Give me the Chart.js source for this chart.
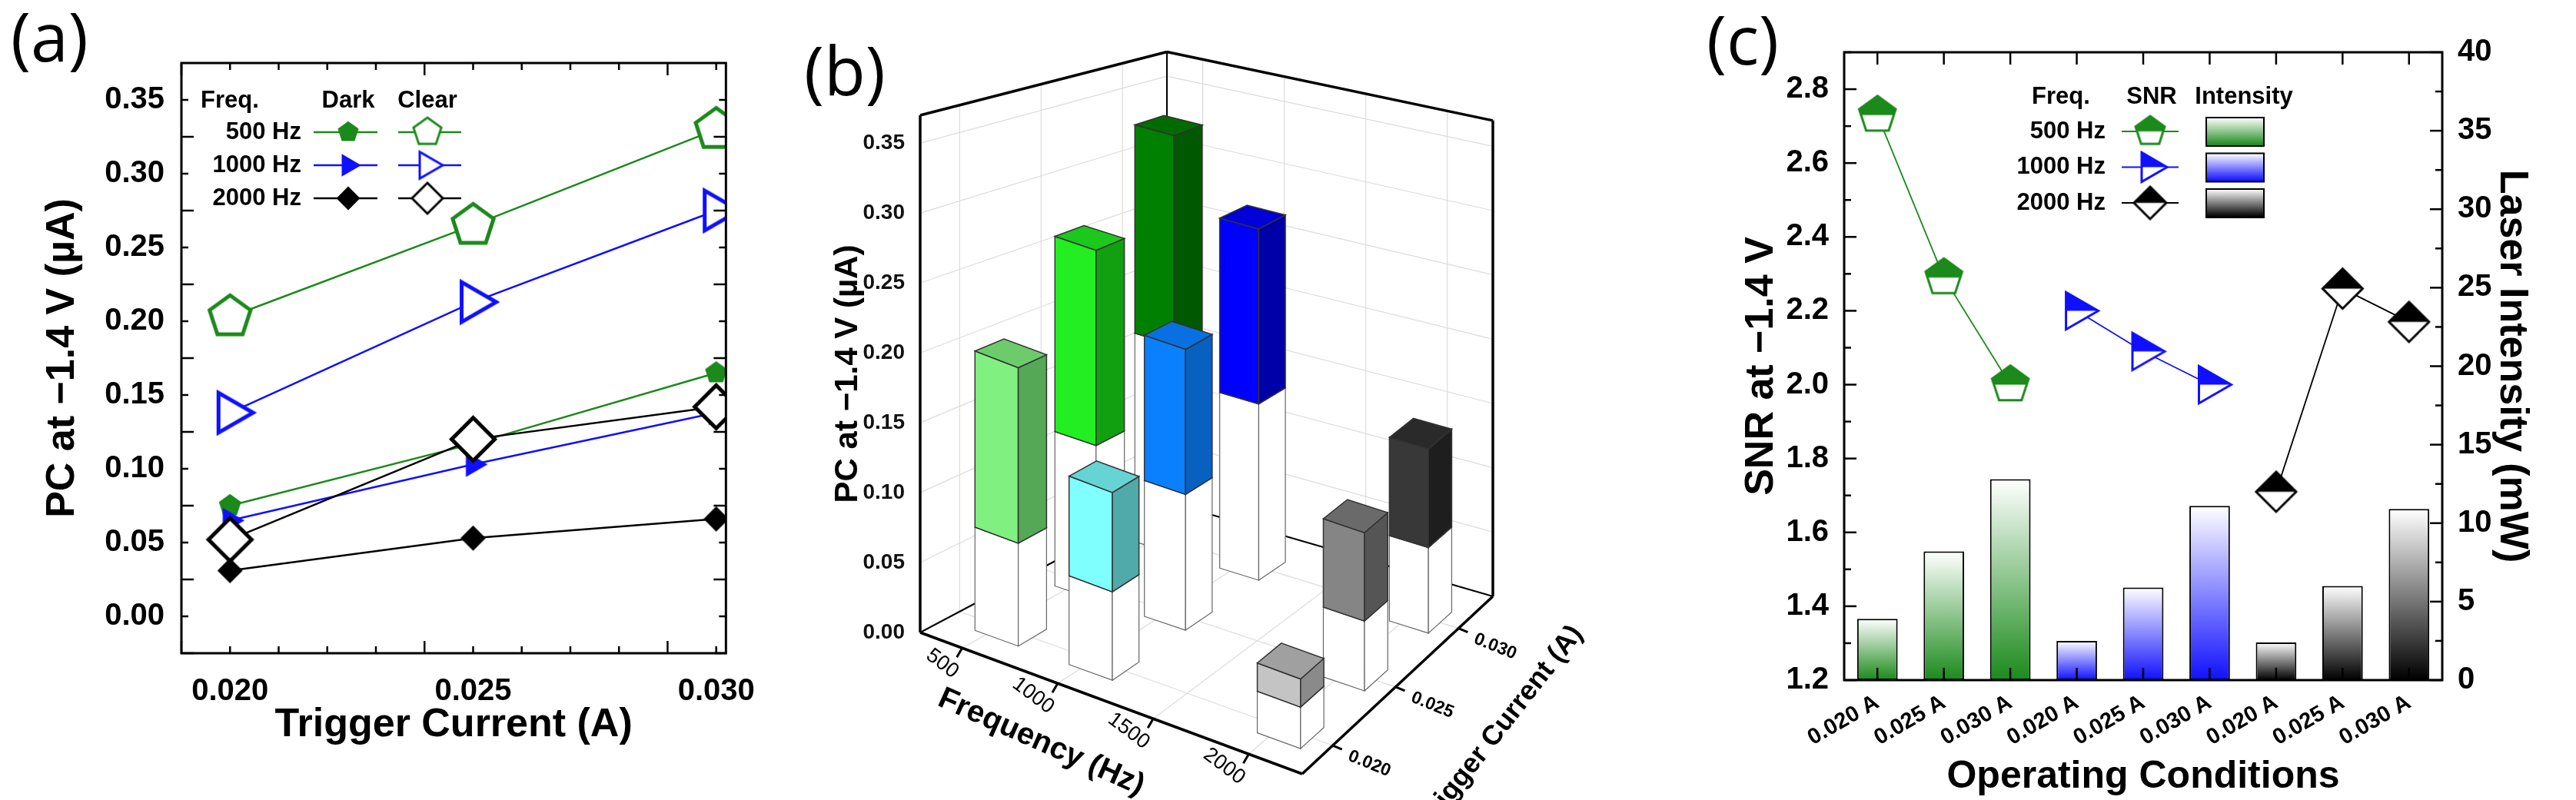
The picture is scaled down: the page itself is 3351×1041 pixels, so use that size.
<!DOCTYPE html>
<html><head><meta charset="utf-8">
<script src="https://cdn.jsdelivr.net/npm/chart.js@4.4.1/dist/chart.umd.min.js"></script>
<style>
body{margin:0;background:#fff;width:3351px;height:1041px;position:relative;overflow:hidden}
canvas{position:absolute;top:0}
.lab{position:absolute;font-family:"Open Sans",sans-serif;font-size:88px;line-height:1;color:#000}
</style></head><body>
<canvas id="ca" width="1000" height="1041" style="left:0"></canvas>
<canvas id="cb" width="1250" height="1041" style="left:1000px"></canvas>
<canvas id="cc" width="1101" height="1041" style="left:2250px"></canvas>
<div class="lab" style="left:14px;top:2px">(a)</div>
<div class="lab" style="left:1046px;top:46px">(b)</div>
<div class="lab" style="left:2220px;top:6px">(c)</div>
<script>
// ---------- data ----------
const currents = [0.020, 0.025, 0.030];
const currentLabels = ['0.020', '0.025', '0.030'];
const freqLabels = ['500 Hz', '1000 Hz', '2000 Hz'];
const freq3DLabels = ['500', '1000', '1500', '2000'];
const dark500 = [0.075, 0.117, 0.165];
const clear500 = [0.203, 0.265, 0.330];
const dark1000 = [0.065, 0.103, 0.138];
const clear1000 = [0.138, 0.213, 0.275];
const dark2000 = [0.031, 0.053, 0.066];
const clear2000 = [0.052, 0.120, 0.142];
const pcTicks = [0.00, 0.05, 0.10, 0.15, 0.20, 0.25, 0.30, 0.35];
const condLabels = ['0.020 A','0.025 A','0.030 A','0.020 A','0.025 A','0.030 A','0.020 A','0.025 A','0.030 A'];
const snr500 = [2.73, 2.29, 2.00];
const snr1000 = [2.20, 2.09, 2.00];
const snr2000 = [1.71, 2.26, 2.17];
const intensity = [3.9, 8.2, 12.8, 2.5, 5.9, 11.1, 2.4, 6.0, 10.9];
const snrTicks = [1.2, 1.4, 1.6, 1.8, 2.0, 2.2, 2.4, 2.6, 2.8];
const intTicks = [0, 5, 10, 15, 20, 25, 30, 35, 40];

// ---------- styles ----------
const GREEN = '#1b8a1b', BLUE = '#1010ff', BLACK = '#000';
const F = 'Liberation Sans, Arial, sans-serif';

function shapePath(c, shape, x, y, r) {
  c.beginPath();
  if (shape === 'pent') {
    for (let k = 0; k < 5; k++) { const a = -Math.PI/2 + k*2*Math.PI/5; const px = x + r*Math.cos(a), py = y + r*Math.sin(a); k ? c.lineTo(px,py) : c.moveTo(px,py); }
  } else if (shape === 'tri') {
    c.moveTo(x + r, y); c.lineTo(x - r/2, y - r*0.866); c.lineTo(x - r/2, y + r*0.866);
  } else {
    c.moveTo(x, y - r); c.lineTo(x + r, y); c.lineTo(x, y + r); c.lineTo(x - r, y);
  }
  c.closePath();
}
function marker(shape, r, stroke, fill, lw, half) {
  const s = Math.ceil(2*r + lw + 6), cv = document.createElement('canvas'); cv.width = cv.height = s;
  const c = cv.getContext('2d'), m = s/2;
  shapePath(c, shape, m, m, r);
  if (half) { c.fillStyle = '#fff'; c.fill(); c.save(); c.clip(); c.fillStyle = fill; c.fillRect(0, 0, s, m); c.restore(); }
  else { c.fillStyle = fill; c.fill(); }
  c.lineWidth = lw; c.strokeStyle = stroke; c.lineJoin = 'miter'; c.stroke();
  return cv;
}
const mk = {
  pentF: marker('pent', 14, GREEN, GREEN, 2, false), pentO: marker('pent', 28, GREEN, '#fff', 5, false),
  triF: marker('tri', 17, BLUE, BLUE, 2, false), triO: marker('tri', 30, BLUE, '#fff', 5, false),
  diaF: marker('dia', 15, BLACK, BLACK, 2, false), diaO: marker('dia', 28, BLACK, '#fff', 5, false),
  pentLF: marker('pent', 13, GREEN, GREEN, 2, false), pentLO: marker('pent', 19, GREEN, '#fff', 3, false),
  triLF: marker('tri', 15, BLUE, BLUE, 2, false), triLO: marker('tri', 20, BLUE, '#fff', 3, false),
  diaLF: marker('dia', 14, BLACK, BLACK, 2, false), diaLO: marker('dia', 20, BLACK, '#fff', 3, false),
  pentH: marker('pent', 25, GREEN, GREEN, 3, true), triH: marker('tri', 28, BLUE, BLUE, 3, true), diaH: marker('dia', 26, BLACK, BLACK, 3, true),
  pentHL: marker('pent', 20, GREEN, GREEN, 3, true), triHL: marker('tri', 22, BLUE, BLUE, 3, true), diaHL: marker('dia', 21, BLACK, BLACK, 3, true)
};
function drawImg(c, img, x, y) { c.drawImage(img, x - img.width/2, y - img.height/2); }

function frame(chart, specs) {
  const c = chart.ctx, a = chart.chartArea;
  c.save(); c.strokeStyle = '#000'; c.lineWidth = 3;
  c.strokeRect(a.left, a.top, a.width, a.height);
  c.lineWidth = 2.5;
  specs.forEach(s => {
    s.pix.forEach((p, k) => {
      const len = s.major[k] ? 16 : 9;
      c.beginPath();
      if (s.side === 'left') { c.moveTo(a.left, p); c.lineTo(a.left + len, p); }
      if (s.side === 'right') { c.moveTo(a.right, p); c.lineTo(a.right - len, p); }
      if (s.side === 'bottom') { c.moveTo(p, a.bottom); c.lineTo(p, a.bottom - len); }
      if (s.side === 'top') { c.moveTo(p, a.top); c.lineTo(p, a.top + len); }
      c.stroke();
    });
  });
  c.restore();
}
function tickSpec(scale, side, from, to, step, majorStep) {
  const pix = [], major = [];
  for (let v = from; v <= to + 1e-9; v += step) {
    pix.push(scale.getPixelForValue(v));
    const r = (v - from) / majorStep; major.push(Math.abs(r - Math.round(r)) < 1e-6);
  }
  return { side, pix, major };
}
const common = { animation: false, responsive: false, plugins: { legend: { display: false }, tooltip: { enabled: false } } };

// ---------- (a) ----------
const pts = arr => arr.map((v, i) => ({ x: currents[i], y: v }));
const lineDs = (arr, col, img) => ({ data: pts(arr), showLine: true, borderColor: col, borderWidth: 2.5, pointStyle: img, pointRadius: 10 });
new Chart(document.getElementById('ca'), {
  type: 'scatter',
  data: { datasets: [
    lineDs(dark2000, BLACK, mk.diaF), lineDs(clear2000, BLACK, mk.diaO),
    lineDs(dark1000, BLUE, mk.triF), lineDs(dark500, GREEN, mk.pentF),
    lineDs(clear1000, BLUE, mk.triO), lineDs(clear500, GREEN, mk.pentO)
  ] },
  options: { ...common,
    layout: { padding: { left: 50, right: 15, top: 82, bottom: 66 } },
    scales: {
      x: { type: 'linear', min: 0.019, max: 0.0302,
        afterFit: s => { s.height = 125; },
        afterBuildTicks: s => { s.ticks = currents.map(v => ({ value: v })); },
        ticks: { callback: (v, i) => currentLabels[i], font: { family: F, size: 40, weight: 'bold' }, color: '#000', padding: 18 },
        grid: { display: false }, border: { display: false },
        title: { display: true, text: 'Trigger Current (A)', font: { family: F, size: 52, weight: 'bold' }, color: '#000', padding: 0 } },
      y: { min: -0.025, max: 0.375,
        afterFit: s => { s.width = 186; },
        afterBuildTicks: s => { s.ticks = pcTicks.map(v => ({ value: v })); },
        ticks: { callback: v => v.toFixed(2), font: { family: F, size: 40, weight: 'bold' }, color: '#000', padding: 14 },
        grid: { display: false }, border: { display: false },
        title: { display: true, text: 'PC at −1.4 V (µA)', font: { family: F, size: 52, weight: 'bold' }, color: '#000', padding: 0 } }
    }
  },
  plugins: [{ id: 'fa', afterDraw(ch) {
    const x = ch.scales.x, y = ch.scales.y;
    frame(ch, [tickSpec(x, 'bottom', 0.019, 0.030, 0.001, 0.005), tickSpec(x, 'top', 0.019, 0.030, 0.001, 0.005),
      tickSpec(y, 'left', -0.025, 0.35, 0.025, 0.05), tickSpec(y, 'right', -0.025, 0.35, 0.025, 0.05)]);
    const c = ch.ctx, a = ch.chartArea, L = a.left, T = a.top;
    c.save(); c.fillStyle = '#000'; c.font = `bold 31px ${F}`; c.textBaseline = 'middle';
    c.textAlign = 'left'; c.fillText('Freq.', L + 25, T + 49);
    c.textAlign = 'center'; c.fillText('Dark', L + 217, T + 49); c.fillText('Clear', L + 320, T + 49);
    const rows = [[GREEN, mk.pentLF, mk.pentLO], [BLUE, mk.triLF, mk.triLO], [BLACK, mk.diaLF, mk.diaLO]];
    rows.forEach((r, k) => {
      const yy = T + 90 + k*43;
      c.textAlign = 'right'; c.fillStyle = '#000'; c.fillText(freqLabels[k], L + 156, yy);
      c.strokeStyle = r[0]; c.lineWidth = 2.5;
      c.beginPath(); c.moveTo(L + 172, yy); c.lineTo(L + 255, yy); c.moveTo(L + 282, yy); c.lineTo(L + 364, yy); c.stroke();
      drawImg(c, r[1], L + 217, yy); drawImg(c, r[2], L + 320, yy);
    });
    c.restore();
  } }]
});

// ---------- (b) pseudo 3D ----------
const boxColors = [
  [['#80f080', '#55a855', '#6ccc6c'], ['#22ee22', '#10a010', '#1cc81c'], ['#008000', '#005800', '#006c00']],
  [['#80ffff', '#50aaaa', '#66d4d4'], ['#0a80ff', '#0860c0', '#0870e0'], ['#0000ff', '#0000a8', '#0000d8']],
  [['#c4c4c4', '#8a8a8a', '#a0a0a0'], ['#858585', '#555', '#6a6a6a'], ['#383838', '#1e1e1e', '#2a2a2a']]
];
const darkAll = [dark500, dark1000, dark2000], clearAll = [clear500, clear1000, clear2000];
const freqIdx = [0, 1, 3];
new Chart(document.getElementById('cb'), {
  type: 'scatter',
  data: { datasets: [{ data: [] }] },
  options: { ...common,
    layout: { padding: { left: 78, right: 251, top: 150, bottom: 218 } },
    scales: {
      x: { display: false, min: 0, max: 1 },
      y: { min: 0, max: 0.37,
        afterFit: s => { s.width = 119; },
        afterBuildTicks: s => { s.ticks = pcTicks.map(v => ({ value: v })); },
        ticks: { callback: v => v.toFixed(2), font: { family: F, size: 28, weight: 'bold' }, color: '#111', padding: 12 },
        grid: { display: false }, border: { display: false },
        title: { display: true, text: 'PC at −1.4 V (µA)', font: { family: F, size: 42, weight: 'bold' }, color: '#000', padding: 0 } }
    }
  },
  plugins: [{ id: 'fb', afterDraw(ch) {
    const c = ch.ctx, a = ch.chartArea, yS = ch.scales.y;
    const FR = [497, 184], BL = [321, -170], BR = [745, -47];
    const z = yS.getPixelForValue(0);
    const P = (u, w, v) => {
      const x = a.left + u*(1-w)*FR[0] + (1-u)*w*BL[0] + u*w*BR[0];
      const y0 = z + u*(1-w)*FR[1] + (1-u)*w*BL[1] + u*w*BR[1];
      const hs = (1-u)*(1-w) + u*(1-w)*0.96 + (1-u)*w*0.87 + u*w*0.92;
      return [x, y0 - (z - yS.getPixelForValue(v))*hs];
    };
    const line = (p, q, col, lw) => { c.strokeStyle = col; c.lineWidth = lw; c.beginPath(); c.moveTo(p[0], p[1]); c.lineTo(q[0], q[1]); c.stroke(); };
    const vmax = 0.37;
    const uT = freq3DLabels.map((_, i) => 0.11 + 0.25*i);
    const wT = currents.map((_, j) => 0.16 + 0.33*j);
    c.save();
    const g = '#dcdcdc';
    pcTicks.slice(1).forEach(v => { line(P(0,0,v), P(0,1,v), g, 1.2); line(P(0,1,v), P(1,1,v), g, 1.2); });
    uT.forEach(u => { line(P(u,1,0), P(u,1,vmax), g, 1.2); line(P(u,0,0), P(u,1,0), g, 1.2); });
    wT.forEach(w => { line(P(0,w,0), P(0,w,vmax), g, 1.2); line(P(0,w,0), P(1,w,0), g, 1.2); });
    line(P(0,0,0), P(0,1,0), '#000', 2); line(P(0,1,0), P(1,1,0), '#000', 2);
    line(P(0,1,0), P(0,1,vmax), '#000', 2);
    const quad = (pts, fill, edge, lw) => { c.beginPath(); pts.forEach((p, k) => k ? c.lineTo(p[0], p[1]) : c.moveTo(p[0], p[1])); c.closePath(); c.fillStyle = fill; c.fill(); c.strokeStyle = edge; c.lineWidth = lw; c.stroke(); };
    const box = (u0, w0, v0, v1, cols, edge, lw) => {
      const u1 = u0 + 0.115, w1 = w0 + 0.12;
      quad([P(u0,w0,v0), P(u1,w0,v0), P(u1,w0,v1), P(u0,w0,v1)], cols[0], edge, lw);
      quad([P(u1,w0,v0), P(u1,w1,v0), P(u1,w1,v1), P(u1,w0,v1)], cols[1], edge, lw);
      quad([P(u0,w0,v1), P(u1,w0,v1), P(u1,w1,v1), P(u0,w1,v1)], cols[2], edge, lw);
    };
    const order = [];
    for (let j = 2; j >= 0; j--) for (let k = 0; k < 3; k++) order.push([k, j]);
    order.forEach(([k, j]) => {
      const u0 = 0.08 + 0.25*freqIdx[k], w0 = 0.1 + 0.33*j;
      box(u0, w0, 0, darkAll[k][j], ['#fff', '#fff', '#fff'], '#666', 1.2);
      box(u0, w0, darkAll[k][j], clearAll[k][j], boxColors[k][j], '#333', 1.5);
    });
    line(P(0,0,0), P(1,0,0), '#000', 3.5); line(P(1,0,0), P(1,1,0), '#000', 3.5);
    line(P(0,0,0), P(0,0,vmax), '#000', 3.5); line(P(0,0,vmax), P(0,1,vmax), '#000', 3.5);
    line(P(0,1,vmax), P(1,1,vmax), '#000', 3.5); line(P(1,1,0), P(1,1,vmax), '#000', 3.5);
    c.fillStyle = '#000'; c.font = `27px ${F}`; c.textBaseline = 'middle';
    uT.forEach((u, i) => {
      const p = P(u, 0, 0); line(p, [p[0] - 7, p[1] + 12], '#000', 3);
      c.save(); c.translate(p[0] - 8, p[1] + 34); c.rotate(37*Math.PI/180); c.textAlign = 'right'; c.fillText(freq3DLabels[i], 0, 0); c.restore();
    });
    c.font = `bold 23px ${F}`;
    wT.forEach((w, j) => {
      const p = P(1, w, 0); line(p, [p[0] + 12, p[1] + 5], '#000', 3);
      c.save(); c.translate(p[0] + 21, p[1] + 13); c.rotate(22*Math.PI/180); c.textAlign = 'left'; c.fillText(currentLabels[j], 0, 0); c.restore();
    });
    c.font = `bold 40px ${F}`; c.textAlign = 'center';
    let p = P(0.5, 0, 0);
    c.save(); c.translate(p[0] - 91, p[1] + 51); c.rotate(24*Math.PI/180); c.fillText('Frequency (Hz)', 0, 0); c.restore();
    c.font = `bold 36px ${F}`;
    p = P(1, 0.5, 0);
    c.save(); c.translate(p[0] + 135, p[1] + 54); c.rotate(-52*Math.PI/180); c.fillText('Trigger Current (A)', 0, 0); c.restore();
    c.restore();
  } }]
});

// ---------- (c) ----------
const pad = (arr, start) => condLabels.map((_, i) => (i >= start && i < start + 3) ? arr[i - start] : null);
const barBase = [GREEN, BLUE, BLACK];
const snrDs = (arr, start, col, img) => ({ type: 'line', data: pad(arr, start), yAxisID: 'y', borderColor: col, borderWidth: 1.8, pointStyle: img, pointRadius: 10, spanGaps: false, order: 1 });
new Chart(document.getElementById('cc'), {
  data: { labels: condLabels, datasets: [
    snrDs(snr500, 0, GREEN, mk.pentH), snrDs(snr1000, 3, BLUE, mk.triH), snrDs(snr2000, 6, BLACK, mk.diaH),
    { type: 'bar', data: intensity, yAxisID: 'y2', order: 2, barPercentage: 0.61, categoryPercentage: 1,
      borderColor: '#000', borderWidth: 2, borderSkipped: false,
      backgroundColor: ctx => {
        const ch = ctx.chart, a = ch.chartArea; if (!a) return '#fff';
        const i = ctx.dataIndex, top = ch.scales.y2.getPixelForValue(intensity[i]);
        const gr = ch.ctx.createLinearGradient(0, top, 0, a.bottom);
        gr.addColorStop(0, '#ffffff'); gr.addColorStop(1, barBase[Math.floor(i/3)]); return gr;
      } }
  ] },
  options: { ...common,
    layout: { padding: { left: 10, right: 52, top: 68, bottom: 0 } },
    scales: {
      x: { afterFit: s => { s.height = 156; },
        ticks: { font: { family: F, size: 29, weight: 'bold' }, color: '#000', minRotation: 30, maxRotation: 30, padding: 4 },
        grid: { display: false }, border: { display: false },
        title: { display: true, text: 'Operating Conditions', font: { family: F, size: 50, weight: 'bold' }, color: '#000', padding: 0 } },
      y: { position: 'left', min: 1.2, max: 2.9,
        afterFit: s => { s.width = 139; },
        afterBuildTicks: s => { s.ticks = snrTicks.map(v => ({ value: v })); },
        ticks: { callback: v => v.toFixed(1), font: { family: F, size: 40, weight: 'bold' }, color: '#000', padding: 12 },
        grid: { display: false }, border: { display: false },
        title: { display: true, text: 'SNR at −1.4 V', font: { family: F, size: 52, weight: 'bold' }, color: '#000', padding: 0 } },
      y2: { position: 'right', min: 0, max: 40,
        afterFit: s => { s.width = 122; },
        afterBuildTicks: s => { s.ticks = intTicks.map(v => ({ value: v })); },
        ticks: { font: { family: F, size: 40, weight: 'bold' }, color: '#000', padding: 12 },
        grid: { display: false }, border: { display: false },
        title: { display: true, text: 'Laser Intensity (mW)', font: { family: F, size: 52, weight: 'bold' }, color: '#000', padding: 0 } }
    }
  },
  plugins: [{ id: 'fc', afterDraw(ch) {
    const x = ch.scales.x, y = ch.scales.y, y2 = ch.scales.y2;
    const cat = { side: 'top', pix: condLabels.map((_, i) => x.getPixelForTick(i)), major: condLabels.map(() => true) };
    const catB = { side: 'bottom', pix: cat.pix, major: cat.major };
    frame(ch, [cat, catB, tickSpec(y, 'left', 1.2, 2.9, 0.1, 0.2), tickSpec(y2, 'right', 0, 40, 2.5, 5)]);
    const c = ch.ctx, a = ch.chartArea, L = a.left, T = a.top;
    c.save(); c.fillStyle = '#000'; c.font = `bold 31px ${F}`; c.textBaseline = 'middle'; c.textAlign = 'center';
    c.fillText('Freq.', L + 282, T + 58); c.fillText('SNR', L + 400, T + 58); c.fillText('Intensity', L + 520, T + 58);
    const imgs = [mk.pentHL, mk.triHL, mk.diaHL];
    freqLabels.forEach((lab, k) => {
      const yy = T + 103 + k*46.5;
      c.textAlign = 'right'; c.fillStyle = '#000'; c.fillText(lab, L + 340, yy);
      c.strokeStyle = barBase[k]; c.lineWidth = 1.8; c.beginPath(); c.moveTo(L + 361, yy); c.lineTo(L + 435, yy); c.stroke();
      drawImg(c, imgs[k], L + 398, yy);
      const gr = c.createLinearGradient(0, yy - 18, 0, yy + 18); gr.addColorStop(0, '#fff'); gr.addColorStop(1, barBase[k]);
      c.fillStyle = gr; c.fillRect(L + 471, yy - 18, 75, 37); c.strokeStyle = '#000'; c.lineWidth = 2; c.strokeRect(L + 471, yy - 18, 75, 37);
    });
    c.restore();
  } }]
});
</script>
</body></html>
